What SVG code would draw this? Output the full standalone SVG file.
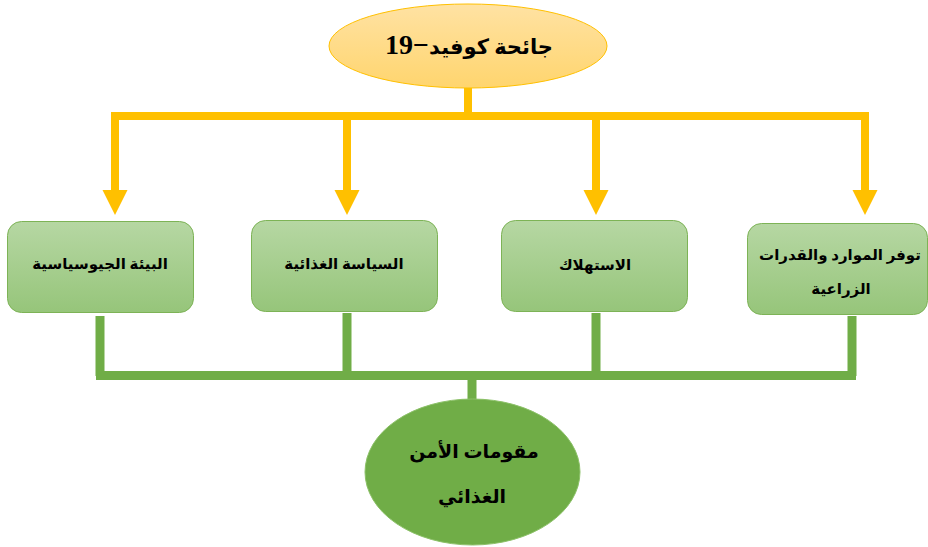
<svg xmlns="http://www.w3.org/2000/svg" width="928" height="547" viewBox="0 0 928 547">
<defs>
<linearGradient id="gTop" x1="0" y1="0" x2="0" y2="1">
<stop offset="0" stop-color="#FFE2A3"/>
<stop offset="1" stop-color="#FFD56E"/>
</linearGradient>
<linearGradient id="gBox" x1="0" y1="0" x2="0" y2="1">
<stop offset="0" stop-color="#B6D7A3"/>
<stop offset="1" stop-color="#96C57A"/>
</linearGradient>
</defs>
<style>
.t{font-family:"Liberation Serif","DejaVu Sans",serif;font-weight:bold;fill:#000;text-anchor:middle}
.box{fill:url(#gBox);stroke:#7DB356;stroke-width:1}
.y{fill:none;stroke:#FFC000;stroke-width:8}
.ya{fill:#FFC000}
.g{fill:none;stroke:#70AD47;stroke-width:9}
</style>
<g id="connectors">
<path class="y" d="M468,88 V116 M111,116 H869 M115,116 V192 M347,116 V192 M596,116 V192 M865,116 V192"/>
<path class="ya" d="M102.5,190 H127.5 L115,215 Z M334.5,190 H359.5 L347,215 Z M583.5,190 H608.5 L596,215 Z M852.5,190 H877.5 L865,215 Z"/>
<path class="g" d="M100,316 V376 M347,313 V376 M596,313 V376 M852,316 V376 M96,375.5 H856 M472,376 V402"/>
</g>
<g id="covid">
<ellipse cx="468" cy="46" rx="139" ry="42" fill="url(#gTop)" stroke="#FFC000" stroke-width="1"/>
<text class="t" x="469" y="54" font-size="21" direction="rtl">جائحة كوفيد<tspan font-size="28">−19</tspan></text>
</g>
<g id="geo">
<rect class="box" x="7.5" y="221.5" width="186" height="91" rx="14"/>
<text class="t" x="100" y="269" font-size="15" direction="rtl">البيئة الجيوسياسية</text>
</g>
<g id="policy">
<rect class="box" x="251.5" y="220.5" width="186" height="91" rx="14"/>
<text class="t" x="344" y="269" font-size="15" direction="rtl">السياسة الغذائية</text>
</g>
<g id="consumption">
<rect class="box" x="501.5" y="220.5" width="186" height="91" rx="14"/>
<text class="t" x="595" y="270" font-size="15" direction="rtl">الاستهلاك</text>
</g>
<g id="resources">
<rect class="box" x="747.5" y="223.5" width="180" height="91" rx="14"/>
<text class="t" x="840" y="260" font-size="15" direction="rtl">توفر الموارد والقدرات</text>
<text class="t" x="841" y="294" font-size="15" direction="rtl">الزراعية</text>
</g>
<g id="foodsecurity">
<ellipse cx="472.5" cy="472" rx="107.5" ry="73" fill="#70AD47" stroke="#8CC168" stroke-width="1"/>
<text class="t" x="474" y="458" font-size="19" direction="rtl">مقومات الأمن</text>
<text class="t" x="472" y="503" font-size="19" direction="rtl">الغذائي</text>
</g>
</svg>
